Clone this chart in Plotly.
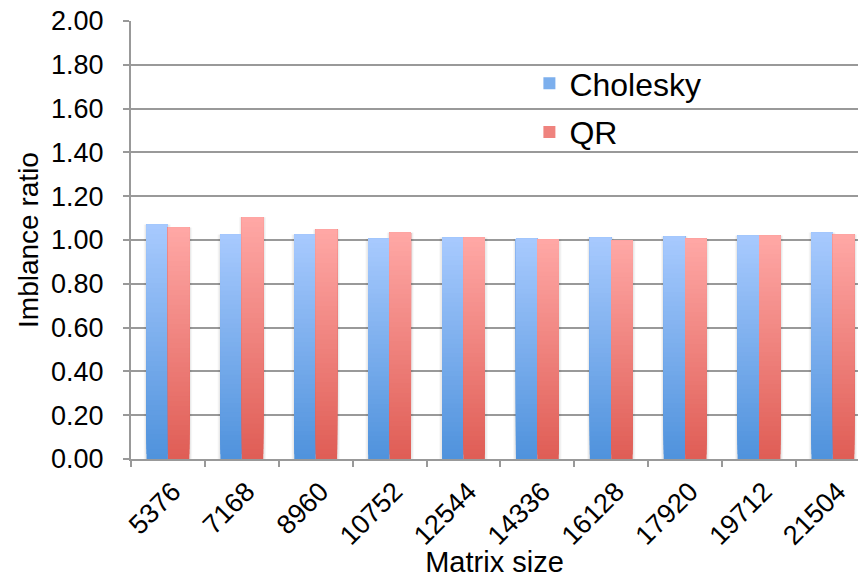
import plotly.graph_objects as go

# Matrix sizes on the x axis
matrix_sizes = ["5376", "7168", "8960", "10752", "12544",
                "14336", "16128", "17920", "19712", "21504"]

# Imbalance ratio per matrix size
cholesky = [1.071, 1.025, 1.025, 1.006, 1.011, 1.006, 1.011, 1.016, 1.020, 1.034]
qr = [1.057, 1.104, 1.048, 1.034, 1.011, 1.002, 0.997, 1.006, 1.020, 1.025]

# Vertical gradient end colours (top, bottom) for each series
series = [
    ("Cholesky", cholesky, (0xA8, 0xCA, 0xFE), (0x4F, 0x92, 0xDC)),
    ("QR", qr, (0xFF, 0xA8, 0xA6), (0xDF, 0x5D, 0x55)),
]

N_STEPS = 48        # layers used to paint the gradient inside each bar
BAR_GAP = 0.42
SLOT = (1 - BAR_GAP) / 2  # width of one bar in category units


def mix(top, bottom, t):
    """t = 0 at the bottom of the bar, 1 at the top."""
    r, g, b = (round(bottom[i] + (top[i] - bottom[i]) * t) for i in range(3))
    return f"rgb({r},{g},{b})"


fig = go.Figure()

# Soft shadow behind every bar
for name, values, _, _ in series:
    for extra, alpha in ((0.075, 0.035), (0.045, 0.05)):
        fig.add_trace(go.Bar(
            x=matrix_sizes,
            y=values,
            offsetgroup=name,
            width=SLOT + extra,
            showlegend=False,
            marker=dict(color=f"rgba(0,0,0,{alpha})", line=dict(width=0)),
            hoverinfo="skip",
        ))

for name, values, top, bottom in series:
    # Each layer runs from its own start up to the bar top; later layers
    # cover the upper part of earlier ones, so no seams show between them.
    for k in range(N_STEPS):
        t = (k + 0.5) / N_STEPS
        fig.add_trace(go.Bar(
            x=matrix_sizes,
            y=[v * (N_STEPS - k) / N_STEPS for v in values],
            base=[v * k / N_STEPS for v in values],
            offsetgroup=name,
            name=name,
            legendgroup=name,
            showlegend=(k == N_STEPS // 2),
            marker=dict(color=mix(top, bottom, t), line=dict(width=0)),
            hoverinfo="skip",
        ))

axis_grey = "#999999"

fig.update_layout(
    width=858,
    height=578,
    margin=dict(l=131, r=0, t=21, b=119),
    paper_bgcolor="white",
    plot_bgcolor="white",
    font=dict(family="Liberation Sans, Arial, sans-serif", color="black"),
    barmode="group",
    bargap=BAR_GAP,
    bargroupgap=0,
    legend=dict(
        x=0.548, y=0.92, xanchor="left", yanchor="top",
        bgcolor="rgba(0,0,0,0)",
        font=dict(size=32),
        tracegroupgap=4,
        itemclick=False, itemdoubleclick=False,
    ),
    xaxis=dict(
        type="category",
        range=[-0.5, 9.34],
        tickson="boundaries",
        ticks="outside",
        ticklen=6,
        tickwidth=2,
        tickcolor=axis_grey,
        showline=True,
        linecolor=axis_grey,
        linewidth=2,
        showgrid=False,
        tickangle=-45,
        tickfont=dict(size=27),
        ticklabelshift=5,
        ticklabelstandoff=4,
        title=dict(text="Matrix size", font=dict(size=29), standoff=2),
    ),
    yaxis=dict(
        range=[0, 2],
        dtick=0.2,
        tick0=0,
        tickformat=".2f",
        ticks="outside",
        ticklen=6,
        tickwidth=2,
        tickcolor=axis_grey,
        showline=True,
        linecolor=axis_grey,
        linewidth=2,
        showgrid=True,
        gridcolor=axis_grey,
        gridwidth=2,
        zeroline=False,
        tickfont=dict(size=27),
        ticklabelstandoff=14,
        title=dict(text="Imblance ratio", font=dict(size=28), standoff=4),
    ),
)

fig.write_html("out.html")
